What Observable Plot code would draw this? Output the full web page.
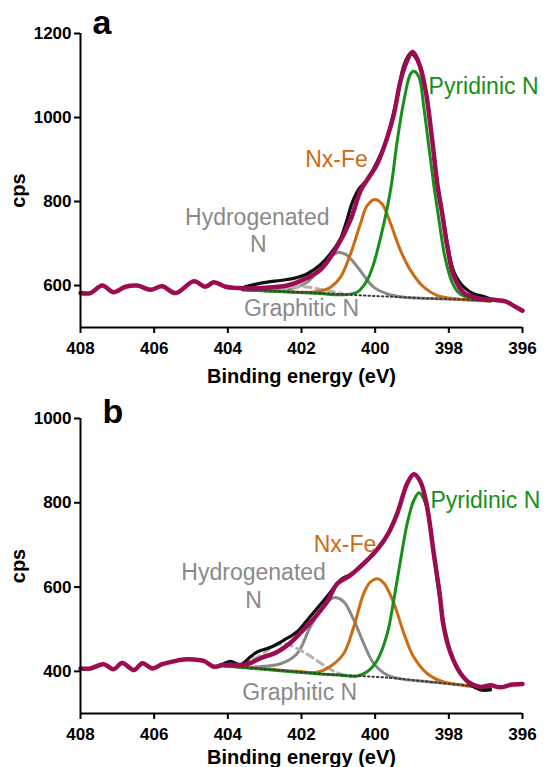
<!DOCTYPE html>
<html>
<head>
<meta charset="utf-8">
<script src="https://cdn.jsdelivr.net/npm/d3@7"></script>
<script src="https://cdn.jsdelivr.net/npm/@observablehq/plot@0.6"></script>
<style>
  html, body { margin: 0; padding: 0; background: #fff; }
  #chart { width: 547px; height: 767px; overflow: hidden; }
  #chart svg { display: block; }
</style>
</head>
<body>
<div id="chart"></div>
<script>
// ---------- shared axis values ----------
const xDomain = [408, 396];
const xTicks = [408, 406, 404, 402, 400, 398, 396];
const aYDomain = [500, 1200];
const aYTicks = [600, 800, 1000, 1200];
const bYDomain = [300, 1000];
const bYTicks = [400, 600, 800, 1000];
const xTitle = "Binding energy (eV)";
const yTitle = "cps";

// ---------- panel a : [binding energy, cps] ----------
const aEnvelope = [[408.0,582],[407.73,582],[407.41,600],[407.10,584],[406.78,597],[406.46,600],[406.10,590],[405.78,598],[405.42,582],[404.92,610],[404.61,597],[404.38,608],[404.06,597],[403.75,594],[403.38,593],[403.11,594],[402.39,600],[401.94,614],[401.48,638],[401.03,693],[400.67,756],[400.40,825],[400.22,851],[399.94,890],[399.67,953],[399.49,1009],[399.31,1088],[399.13,1136],[398.99,1156],[398.81,1129],[398.63,1064],[398.45,945],[398.31,840],[398.18,771],[398.04,692],[397.86,621],[397.59,582],[397.23,570],[396.78,566],[396.46,562],[396.24,552],[396.0,540]];
const aRaw = [[403.57,596],[403.29,602],[402.93,608],[402.57,612],[402.21,617],[401.84,628],[401.48,650],[401.21,676],[400.94,712],[400.76,758],[400.62,798],[400.44,830],[400.22,852],[399.94,896],[399.67,953],[399.40,1048],[399.22,1124],[399.04,1152],[398.81,1129],[398.63,1064],[398.45,945],[398.31,840],[398.18,775],[398.04,700],[397.86,632],[397.59,596],[397.32,580],[397.05,574],[396.87,568]];
const aBaseline = [[403.6,590],[402.5,586],[401.5,582],[400.5,577],[399.5,573],[398.5,569],[397.5,566],[396.87,563]];
const aPyridinic = [[403.6,590],[402.5,585],[401.5,581],[400.94,578],[400.49,584],[400.22,612],[400.04,652],[399.85,715],[399.67,786],[399.55,845],[399.40,945],[399.22,1040],[399.04,1104],[398.95,1110],[398.81,1096],[398.68,1025],[398.54,929],[398.40,834],[398.25,745],[398.10,665],[397.90,605],[397.70,580],[397.40,569],[396.87,563]];
const aNxFe = [[403.6,590],[402.8,587],[402.0,584],[401.6,585],[401.39,589],[401.21,596],[400.94,620],[400.67,675],[400.40,747],[400.22,790],[400.01,805],[399.81,794],[399.58,747],[399.31,683],[399.04,636],[398.68,596],[398.31,576],[397.77,568],[396.87,563]];
const aHydrogenated = [[403.6,590],[403.0,589],[402.3,592],[401.84,608],[401.48,644],[401.21,669],[401.03,678],[400.80,674],[400.58,655],[400.31,624],[400.04,596],[399.67,580],[399.22,572],[398.5,569],[397.5,566],[396.87,563]];
const aGraphitic = [[402.9,587],[402.5,592],[402.1,597],[401.8,596],[401.5,591],[401.2,586],[400.9,581]];

// ---------- panel b : [binding energy, cps] ----------
const bEnvelope = [[408.0,407],[407.73,407],[407.37,417],[407.10,405],[406.87,420],[406.55,403],[406.32,419],[406.05,407],[405.78,417],[405.51,423],[405.20,428],[404.92,428],[404.65,425],[404.38,411],[404.11,415],[403.75,415],[403.47,417],[403.11,431],[402.66,446],[402.30,468],[402.00,494],[401.67,525],[401.30,566],[401.03,608],[400.67,628],[400.31,656],[399.94,690],[399.67,723],[399.40,775],[399.13,846],[398.95,868],[398.77,850],[398.59,790],[398.41,680],[398.25,585],[398.14,506],[397.95,443],[397.68,395],[397.41,371],[397.14,363],[396.87,367],[396.60,362],[396.32,368],[396.0,370]];
const bRaw = [[404.2,416],[404.11,418],[403.93,424],[403.66,416],[403.38,435],[403.20,446],[402.84,457],[402.48,474],[402.12,494],[401.84,522],[401.57,550],[401.30,578],[400.94,617],[400.67,630],[400.40,648],[399.94,688],[399.67,723],[399.40,775],[399.13,846],[398.95,868],[398.77,850],[398.59,790],[398.41,680],[398.25,585],[398.14,506],[397.95,443],[397.68,395],[397.41,368],[397.14,356],[396.87,356]];
const bBaseline = [[404.1,413],[403.0,406],[402.0,398],[400.94,391],[400.0,387],[399.4,383],[398.5,375],[397.5,366],[396.87,359]];
const bPyridinic = [[404.1,413],[402.5,401],[401.5,394],[400.94,391],[400.49,389],[400.22,399],[399.94,427],[399.67,490],[399.49,572],[399.31,664],[399.13,751],[398.95,806],[398.81,824],[398.63,798],[398.45,711],[398.32,615],[398.15,520],[397.95,445],[397.70,395],[397.40,372],[397.10,363],[396.87,359]];
const bNxFe = [[404.1,413],[403.0,406],[402.12,400],[401.57,398],[401.21,412],[400.85,443],[400.58,506],[400.31,585],[400.13,612],[399.94,620],[399.76,609],[399.49,561],[399.22,490],[398.96,435],[398.59,395],[398.14,375],[397.59,367],[396.87,359]];
const bHydrogenated = [[404.1,413],[403.5,410],[403.02,412],[402.57,418],[402.12,442],[401.76,506],[401.48,545],[401.21,571],[401.08,575],[400.85,565],[400.58,522],[400.31,466],[400.04,419],[399.67,391],[399.22,381],[398.5,375],[397.5,366],[396.87,359]];
const bGraphitic = [[403.6,418],[403.1,438],[402.75,460],[402.39,464],[402.03,450],[401.67,431],[401.30,409],[400.94,394],[400.5,388]];

// ---------- annotation texts ----------
const peakNames = ["Pyridinic N", "Nx-Fe", "Hydrogenated", "N", "Graphitic N"];
const peakColors = ["#17901a", "#cc6b14", "#8a8a8a", "#8a8a8a", "#8a8a8a"];
// label anchor positions in data units (energy, cps)
const aLabelPos = [[398.55,1074],[401.05,900],[403.2,762],[403.17,697],[402.0,545]];
const bLabelPos = [[398.50,806],[400.82,700],[403.3,635],[403.3,569],[402.05,350]];
// y-title centre positions in data units (cps)
const aYTitlePos = 826;
const bYTitlePos = 650;

const C = {
  envelope: "#9c0c50",
  raw: "#111111",
  base: "#3a3a3a",
  hyd: "#8a8a8a",
  gra: "#b3b3b3",
  nxfe: "#cc6b14",
  pyr: "#17901a"
};

function panel({letter, yDomain, yTicks, env, raw, base, pyr, nxfe, hyd, gra, labelPos, yTitlePos, height, marginTop, marginBottom, letterDx, letterDy, xTitleDy}) {
  const fx = d => d[0], fy = d => d[1];
  const labels = peakNames.map((t, i) => ({t, c: peakColors[i], e: labelPos[i][0], v: labelPos[i][1]}));
  return Plot.plot({
    width: 547,
    height,
    marginTop,
    marginBottom,
    marginLeft: 80,
    marginRight: 25,
    x: {domain: xDomain},
    y: {domain: yDomain},
    style: {fontFamily: "'Liberation Sans', Arial, sans-serif", fontSize: "17px", fontWeight: "bold", color: "#000", background: "#fff", overflow: "visible"},
    marks: [
      Plot.line(hyd, {x: fx, y: fy, stroke: C.hyd, strokeWidth: 3, curve: "catmull-rom"}),
      Plot.line(gra, {x: fx, y: fy, stroke: C.gra, strokeWidth: 3, strokeDasharray: "7,5", curve: "catmull-rom"}),
      Plot.line(nxfe, {x: fx, y: fy, stroke: C.nxfe, strokeWidth: 3, curve: "catmull-rom"}),
      Plot.line(pyr, {x: fx, y: fy, stroke: C.pyr, strokeWidth: 3, curve: "catmull-rom"}),
      Plot.line(base, {x: fx, y: fy, stroke: C.base, strokeWidth: 2, strokeDasharray: "1.5,3", curve: "catmull-rom"}),
      Plot.line(raw, {x: fx, y: fy, stroke: C.raw, strokeWidth: 3.2, curve: "catmull-rom"}),
      Plot.line(env, {x: fx, y: fy, stroke: C.envelope, strokeWidth: 4.5, curve: "catmull-rom", strokeLinejoin: "round"}),
      Plot.ruleX([xDomain[0]], {stroke: "#000", strokeWidth: 2}),
      Plot.ruleY([yDomain[0]], {stroke: "#000", strokeWidth: 2}),
      Plot.axisX(xTicks, {tickSize: 6, tickPadding: 8, strokeWidth: 2, tickFormat: d => `${d}`, label: null}),
      Plot.axisY(yTicks, {tickSize: 6, tickPadding: 3, strokeWidth: 2, tickFormat: d => `${d}`, label: null}),
      Plot.text(labels.slice(0, 1), {x: "e", y: "v", text: "t", fill: "c", textAnchor: "start", fontSize: 23, fontWeight: "normal", lineAnchor: "middle"}),
      Plot.text(labels.slice(1), {x: "e", y: "v", text: "t", fill: "c", textAnchor: "middle", fontSize: 23, fontWeight: "normal", lineAnchor: "middle"}),
      Plot.text([letter], {frameAnchor: "top-left", textAnchor: "start", lineAnchor: "middle", dx: letterDx, dy: letterDy, fontSize: 34, fontWeight: "bold"}),
      Plot.text([xTitle], {frameAnchor: "bottom", lineAnchor: "middle", dy: xTitleDy, fontSize: 20, fontWeight: "bold"}),
      Plot.text([yTitle], {x: () => xDomain[0], y: () => yTitlePos, textAnchor: "middle", lineAnchor: "middle", dx: -62, rotate: -90, fontSize: 20, fontWeight: "bold"})
    ]
  });
}

const chart = document.getElementById("chart");
chart.append(panel({
  letter: "a", yDomain: aYDomain, yTicks: aYTicks,
  env: aEnvelope, raw: aRaw, base: aBaseline, pyr: aPyridinic, nxfe: aNxFe, hyd: aHydrogenated, gra: aGraphitic,
  labelPos: aLabelPos, yTitlePos: aYTitlePos, height: 390, marginTop: 33, marginBottom: 63, letterDx: 12, letterDy: -10, xTitleDy: 49
}));
chart.append(panel({
  letter: "b", yDomain: bYDomain, yTicks: bYTicks,
  env: bEnvelope, raw: bRaw, base: bBaseline, pyr: bPyridinic, nxfe: bNxFe, hyd: bHydrogenated, gra: bGraphitic,
  labelPos: bLabelPos, yTitlePos: bYTitlePos, height: 377, marginTop: 28, marginBottom: 54, letterDx: 22, letterDy: -6, xTitleDy: 44
}));
</script>
</body>
</html>
